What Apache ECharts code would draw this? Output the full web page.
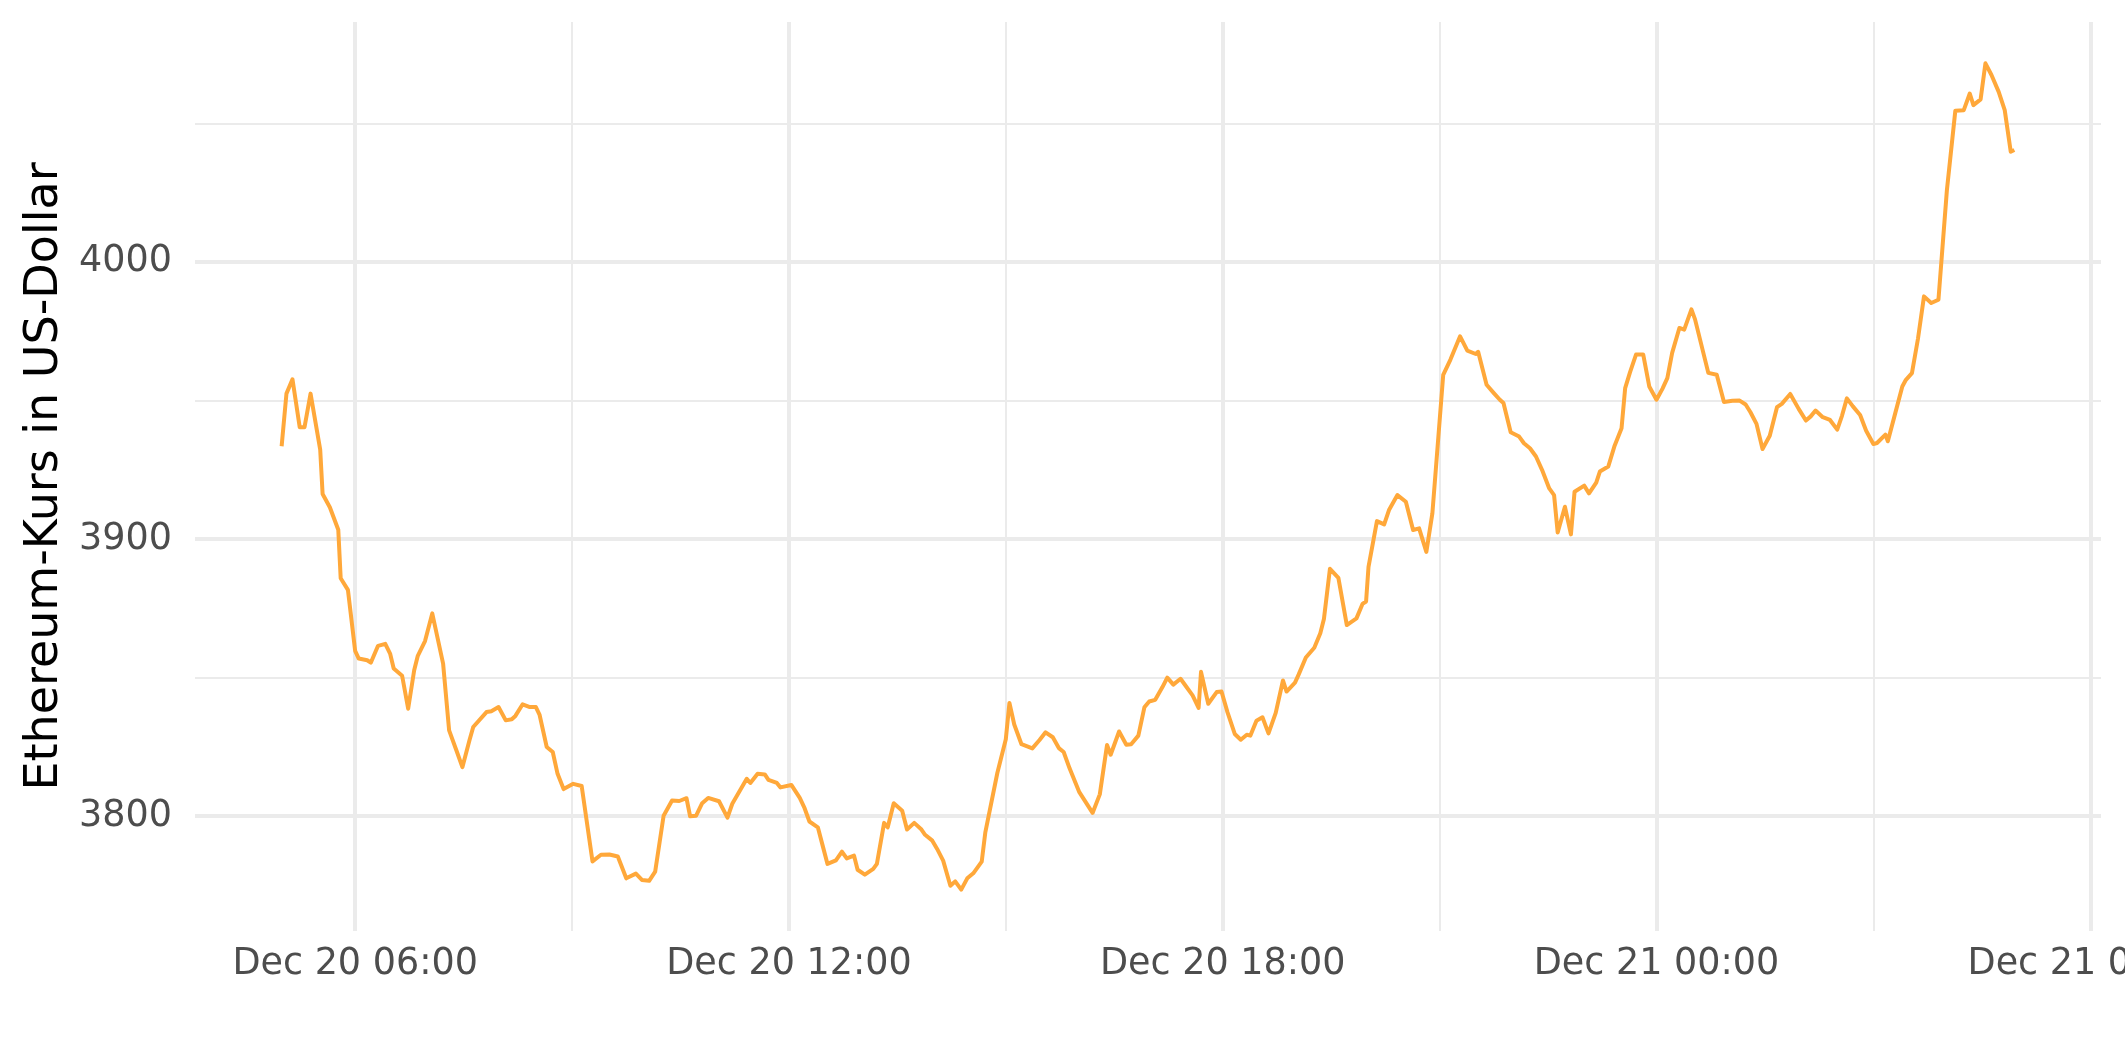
<!DOCTYPE html>
<html>
<head>
<meta charset="utf-8">
<script src="https://cdn.jsdelivr.net/npm/echarts@6/dist/echarts.min.js"></script>
<style>
html,body{margin:0;padding:0;background:#ffffff;}
#chart{width:2125px;height:1062px;}
</style>
</head>
<body>
<div id="chart"></div>
<script>
// ---- data ----
const times = [
'2021-12-20 04:59','2021-12-20 05:03','2021-12-20 05:08','2021-12-20 05:14','2021-12-20 05:18','2021-12-20 05:23',
'2021-12-20 05:31','2021-12-20 05:33','2021-12-20 05:39','2021-12-20 05:46','2021-12-20 05:48','2021-12-20 05:54',
'2021-12-20 06:00','2021-12-20 06:03','2021-12-20 06:10','2021-12-20 06:13','2021-12-20 06:19','2021-12-20 06:25',
'2021-12-20 06:29','2021-12-20 06:32','2021-12-20 06:39','2021-12-20 06:44','2021-12-20 06:49','2021-12-20 06:52',
'2021-12-20 06:58','2021-12-20 07:04','2021-12-20 07:13','2021-12-20 07:18','2021-12-20 07:24','2021-12-20 07:29',
'2021-12-20 07:35','2021-12-20 07:38','2021-12-20 07:49','2021-12-20 07:53','2021-12-20 07:59','2021-12-20 08:05',
'2021-12-20 08:10','2021-12-20 08:13','2021-12-20 08:19','2021-12-20 08:25','2021-12-20 08:30','2021-12-20 08:33',
'2021-12-20 08:39','2021-12-20 08:44','2021-12-20 08:48','2021-12-20 08:53','2021-12-20 09:01','2021-12-20 09:08',
'2021-12-20 09:17','2021-12-20 09:24','2021-12-20 09:31','2021-12-20 09:38','2021-12-20 09:45','2021-12-20 09:53',
'2021-12-20 09:58','2021-12-20 10:04','2021-12-20 10:09','2021-12-20 10:16','2021-12-20 10:23','2021-12-20 10:29',
'2021-12-20 10:35','2021-12-20 10:38','2021-12-20 10:43','2021-12-20 10:48','2021-12-20 10:53','2021-12-20 11:02',
'2021-12-20 11:09','2021-12-20 11:13','2021-12-20 11:25','2021-12-20 11:28','2021-12-20 11:34','2021-12-20 11:40',
'2021-12-20 11:43','2021-12-20 11:50','2021-12-20 11:53','2021-12-20 12:02','2021-12-20 12:09','2021-12-20 12:13',
'2021-12-20 12:17','2021-12-20 12:24','2021-12-20 12:28','2021-12-20 12:32','2021-12-20 12:39','2021-12-20 12:44',
'2021-12-20 12:48','2021-12-20 12:54','2021-12-20 12:57','2021-12-20 13:03','2021-12-20 13:10','2021-12-20 13:13',
'2021-12-20 13:19','2021-12-20 13:22','2021-12-20 13:27','2021-12-20 13:34','2021-12-20 13:38','2021-12-20 13:44',
'2021-12-20 13:50','2021-12-20 13:53','2021-12-20 13:59','2021-12-20 14:03','2021-12-20 14:08','2021-12-20 14:14',
'2021-12-20 14:18','2021-12-20 14:23','2021-12-20 14:28','2021-12-20 14:33','2021-12-20 14:40','2021-12-20 14:43',
'2021-12-20 14:53','2021-12-20 15:00','2021-12-20 15:03','2021-12-20 15:07','2021-12-20 15:13','2021-12-20 15:22',
'2021-12-20 15:28','2021-12-20 15:33','2021-12-20 15:39','2021-12-20 15:44','2021-12-20 15:48','2021-12-20 15:53',
'2021-12-20 16:01','2021-12-20 16:12','2021-12-20 16:18','2021-12-20 16:24','2021-12-20 16:27','2021-12-20 16:34',
'2021-12-20 16:40','2021-12-20 16:44','2021-12-20 16:50','2021-12-20 16:55','2021-12-20 16:59','2021-12-20 17:04',
'2021-12-20 17:10','2021-12-20 17:14','2021-12-20 17:19','2021-12-20 17:25','2021-12-20 17:28','2021-12-20 17:35',
'2021-12-20 17:40','2021-12-20 17:42','2021-12-20 17:48','2021-12-20 17:55','2021-12-20 17:59','2021-12-20 18:04',
'2021-12-20 18:10','2021-12-20 18:15','2021-12-20 18:20','2021-12-20 18:23','2021-12-20 18:28','2021-12-20 18:33',
'2021-12-20 18:38','2021-12-20 18:44','2021-12-20 18:50','2021-12-20 18:53','2021-12-20 19:00','2021-12-20 19:03',
'2021-12-20 19:09','2021-12-20 19:16','2021-12-20 19:21','2021-12-20 19:24','2021-12-20 19:29','2021-12-20 19:36',
'2021-12-20 19:43','2021-12-20 19:51','2021-12-20 19:56','2021-12-20 19:59','2021-12-20 20:01','2021-12-20 20:08',
'2021-12-20 20:14','2021-12-20 20:18','2021-12-20 20:25','2021-12-20 20:32','2021-12-20 20:38','2021-12-20 20:43',
'2021-12-20 20:49','2021-12-20 20:54','2021-12-20 21:03','2021-12-20 21:09','2021-12-20 21:17','2021-12-20 21:23',
'2021-12-20 21:30','2021-12-20 21:32','2021-12-20 21:39','2021-12-20 21:45','2021-12-20 21:50','2021-12-20 21:53',
'2021-12-20 21:59','2021-12-20 22:06','2021-12-20 22:10','2021-12-20 22:15','2021-12-20 22:20','2021-12-20 22:25',
'2021-12-20 22:31','2021-12-20 22:35','2021-12-20 22:38','2021-12-20 22:44','2021-12-20 22:49','2021-12-20 22:52',
'2021-12-20 23:00','2021-12-20 23:04','2021-12-20 23:10','2021-12-20 23:13','2021-12-20 23:20','2021-12-20 23:25',
'2021-12-20 23:31','2021-12-20 23:34','2021-12-20 23:38','2021-12-20 23:43','2021-12-20 23:49','2021-12-20 23:54',
'2021-12-21 00:00','2021-12-21 00:05','2021-12-21 00:09','2021-12-21 00:13','2021-12-21 00:19','2021-12-21 00:23',
'2021-12-21 00:29','2021-12-21 00:32','2021-12-21 00:43','2021-12-21 00:50','2021-12-21 00:56','2021-12-21 01:03',
'2021-12-21 01:09','2021-12-21 01:14','2021-12-21 01:18','2021-12-21 01:23','2021-12-21 01:28','2021-12-21 01:34',
'2021-12-21 01:40','2021-12-21 01:44','2021-12-21 01:51','2021-12-21 01:58','2021-12-21 02:04','2021-12-21 02:08',
'2021-12-21 02:12','2021-12-21 02:18','2021-12-21 02:24','2021-12-21 02:30','2021-12-21 02:34','2021-12-21 02:38',
'2021-12-21 02:43','2021-12-21 02:49','2021-12-21 02:54','2021-12-21 03:00','2021-12-21 03:03','2021-12-21 03:10',
'2021-12-21 03:12','2021-12-21 03:18','2021-12-21 03:24','2021-12-21 03:27','2021-12-21 03:32','2021-12-21 03:37',
'2021-12-21 03:42','2021-12-21 03:48','2021-12-21 03:54','2021-12-21 04:01','2021-12-21 04:08','2021-12-21 04:15',
'2021-12-21 04:20','2021-12-21 04:23','2021-12-21 04:29','2021-12-21 04:33','2021-12-21 04:38','2021-12-21 04:44',
'2021-12-21 04:49','2021-12-21 04:54','2021-12-21 04:57'
];
const prices = [
3933.5,3952.5,3957.7,3940.4,3940.4,3952.5,
3932.3,3916.3,3911.5,3903.4,3885.9,3881.7,
3859.7,3856.9,3856.3,3855.4,3861.5,3862.2,
3858.7,3853.3,3850.7,3838.8,3852.7,3857.9,
3863.2,3873.2,3855.1,3831.0,3823.8,3817.7,
3827.6,3832.2,3837.6,3837.9,3839.4,3834.6,
3835.0,3836.2,3840.4,3839.4,3839.4,3836.7,
3825.0,3823.2,3815.3,3809.8,3811.7,3810.9,
3783.7,3786.1,3786.2,3785.5,3777.6,3779.3,
3777.0,3776.7,3780.0,3800.2,3805.7,3805.5,
3806.5,3800.0,3800.2,3804.7,3806.6,3805.4,
3799.5,3804.5,3813.5,3812.0,3815.3,3815.1,
3813.1,3812.0,3810.4,3811.3,3806.6,3802.9,
3798.1,3796.0,3789.4,3782.8,3784.1,3787.2,
3784.8,3785.8,3780.7,3778.9,3781.0,3782.8,
3797.6,3796.0,3804.7,3802.0,3795.2,3797.6,
3795.2,3793.3,3791.2,3788.2,3784.0,3774.9,
3776.5,3773.5,3777.6,3779.4,3783.6,3794.2,
3815.7,3827.8,3840.9,3833.1,3826.0,3824.5,
3827.5,3830.3,3828.5,3824.6,3823.2,3817.2,
3808.7,3801.2,3807.9,3825.7,3822.2,3830.6,
3825.8,3826.0,3829.1,3839.3,3841.4,3842.0,
3846.6,3850.0,3847.5,3849.6,3847.8,3843.6,
3839.1,3852.1,3840.6,3844.8,3845.0,3837.5,
3829.7,3827.6,3829.4,3829.1,3834.5,3835.7,
3829.9,3837.3,3849.0,3845.0,3848.2,3851.1,
3857.3,3860.8,3866.0,3871.2,3889.3,3886.0,
3869.0,3871.4,3876.6,3877.5,3890.0,3906.5,
3905.3,3910.5,3915.9,3913.5,3903.3,3903.9,
3895.4,3909.3,3959.3,3964.8,3973.2,3968.0,
3966.8,3967.6,3955.7,3952.7,3950.3,3949.1,
3938.6,3937.0,3934.6,3932.8,3929.8,3925.0,
3918.3,3915.9,3902.4,3911.7,3901.7,3917.1,
3919.3,3916.5,3920.4,3924.4,3926.2,3933.4,
3940.0,3954.5,3960.2,3966.6,3966.6,3955.1,
3950.3,3954.3,3958.1,3967.2,3976.2,3975.6,
3982.9,3979.3,3960.0,3959.3,3949.5,3949.9,
3950.0,3948.6,3945.8,3941.6,3932.5,3937.3,
3947.6,3948.8,3952.4,3947.0,3942.8,3944.3,
3946.4,3944.0,3943.0,3939.5,3944.6,3950.8,
3947.9,3944.8,3939.1,3934.3,3934.7,3937.7,
3935.3,3945.2,3955.1,3957.5,3959.9,3972.3,
3987.6,3985.2,3986.4,4025.9,4054.6,4054.8,
4060.8,4056.6,4058.7,4071.7,4067.5,4061.4,
4054.8,4039.8,4040.4
];
const xMajorTicks = ['2021-12-20 06:00','2021-12-20 12:00','2021-12-20 18:00','2021-12-21 00:00','2021-12-21 06:00'];
const xMinorTicks = ['2021-12-20 09:00','2021-12-20 15:00','2021-12-20 21:00','2021-12-21 03:00'];
const yMajorTicks = [3800, 3900, 4000];
const yMinorTicks = [3850, 3950, 4050];
const yTitle = 'Ethereum-Kurs in US-Dollar';
const monthNames = ['Jan','Feb','Mar','Apr','May','Jun','Jul','Aug','Sep','Oct','Nov','Dec'];

// ---- helpers ----
function parseTime(s) {
  const [d, t] = s.split(' ');
  const [Y, M, D] = d.split('-').map(Number);
  const [h, m] = t.split(':').map(Number);
  return Date.UTC(Y, M - 1, D, h, m);
}
function pad2(n) { return (n < 10 ? '0' : '') + n; }
function fmtTime(v) {
  const d = new Date(v);
  return monthNames[d.getUTCMonth()] + ' ' + pad2(d.getUTCDate()) + ' ' + pad2(d.getUTCHours()) + ':' + pad2(d.getUTCMinutes());
}

const seriesData = times.map((t, i) => [parseTime(t), prices[i]]);
const tVals = seriesData.map(p => p[0]);
const tMin = Math.min(...tVals), tMax = Math.max(...tVals);
const vMin = Math.min(...prices), vMax = Math.max(...prices);
const tPad = (tMax - tMin) * 0.05, vPad = (vMax - vMin) * 0.05;

const GRID = '#EBEBEB';
const FONT = "'DejaVu Sans', sans-serif";

const gridLines = []
  .concat(xMinorTicks.map(t => ({ xAxis: parseTime(t), lineStyle: { width: 2, color: GRID, type: 'solid' } })))
  .concat(yMinorTicks.map(v => ({ yAxis: v, lineStyle: { width: 2, color: GRID, type: 'solid' } })))
  .concat(xMajorTicks.map(t => ({ xAxis: parseTime(t), lineStyle: { width: 4, color: GRID, type: 'solid' } })))
  .concat(yMajorTicks.map(v => ({ yAxis: v, lineStyle: { width: 4, color: GRID, type: 'solid' } })));

const chart = echarts.init(document.getElementById('chart'), null, { renderer: 'canvas' });
chart.setOption({
  animation: false,
  backgroundColor: '#ffffff',
  grid: { left: 195, right: 24, top: 22, bottom: 131, containLabel: false, outerBoundsMode: 'none' },
  xAxis: {
    type: 'value',
    min: tMin - tPad,
    max: tMax + tPad,
    axisLine: { show: false },
    axisTick: { show: false },
    splitLine: { show: false },
    axisLabel: {
      customValues: xMajorTicks.map(parseTime),
      formatter: v => fmtTime(v),
      color: '#4D4D4D',
      fontSize: 36.5,
      fontFamily: FONT,
      margin: 15,
      hideOverlap: false
    }
  },
  yAxis: {
    type: 'value',
    min: vMin - vPad,
    max: vMax + vPad,
    name: yTitle,
    nameLocation: 'middle',
    nameRotate: 90,
    nameGap: 118,
    nameTextStyle: { color: '#000000', fontSize: 46, fontFamily: FONT },
    axisLine: { show: false },
    axisTick: { show: false },
    splitLine: { show: false },
    axisLabel: {
      customValues: yMajorTicks,
      formatter: v => String(Math.round(v)),
      color: '#4D4D4D',
      fontSize: 36.5,
      fontFamily: FONT,
      margin: 23
    }
  },
  series: [
    {
      type: 'line',
      z: 1,
      data: [[tMin, vMin]],
      showSymbol: false,
      symbol: 'none',
      silent: true,
      lineStyle: { width: 0, opacity: 0 },
      markLine: {
        silent: true,
        z: 1,
        symbol: ['none', 'none'],
        label: { show: false },
        emphasis: { disabled: true },
        animation: false,
        data: gridLines
      }
    },
    {
      type: 'line',
      z: 3,
      data: seriesData,
      showSymbol: false,
      symbol: 'none',
      silent: true,
      lineStyle: { color: '#FFA83A', width: 4, join: 'round', cap: 'butt' }
    }
  ]
});
</script>
</body>
</html>
